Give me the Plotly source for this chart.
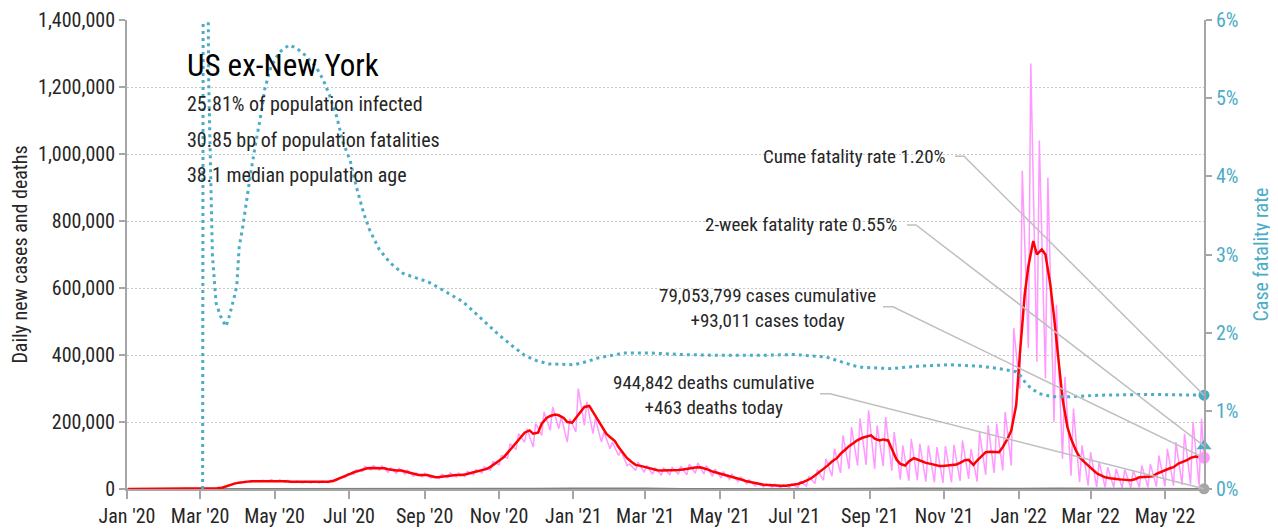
import pandas as pd
import plotly.graph_objects as go

# ---------------- data (cases in thousands) ----------------
thu_dates = pd.date_range("2020-01-02", "2022-06-02", freq="7D")   # 127 Thursdays
sun_dates = pd.date_range("2020-01-05", "2022-05-29", freq="7D")   # 126 Sundays
tue_dates = pd.date_range("2020-01-07", "2022-05-31", freq="7D")   # 126 Tuesdays

# 7-day average of new cases (thousands), sampled Thursday / Sunday of each week
avg_thu = [0, 0, 0, 0, 0, 0, 0, 0, 0, 0.1, 0.8, 4, 12, 19, 22, 23, 25, 25, 24, 22,
           21, 21, 21, 21, 24, 33, 45, 54, 62, 63, 62, 56, 55, 48, 42, 42, 35, 38, 42, 42,
           47, 54, 60, 75, 95, 124, 155, 175, 168, 212, 222, 212, 198, 232, 248, 205, 165, 143, 107, 80,
           69, 63, 56, 55, 57, 58, 62, 65, 57, 48, 43, 35, 27, 20, 14, 12, 10, 10, 12, 20,
           32, 50, 72, 92, 118, 138, 153, 160, 145, 145, 87, 70, 92, 82, 75, 69, 70, 73, 86, 72,
           100, 111, 110, 150, 250, 580, 740, 715, 610, 370, 185, 115, 80, 55, 40, 32, 29, 27, 30, 36,
           38, 52, 62, 76, 86, 97, 92]
avg_sun = [0, 0, 0, 0, 0, 0, 0, 0, 0, 0.3, 2, 8, 16, 21, 23, 24, 25, 25, 23, 22,
           21, 21, 21, 22, 28, 39, 50, 58, 63, 63, 59, 55, 52, 45, 42, 39, 36, 40, 42, 43,
           50, 56, 66, 84, 108, 140, 168, 165, 195, 218, 220, 200, 212, 245, 230, 185, 155, 125, 92, 72,
           66, 59, 55, 56, 57, 60, 64, 62, 52, 45, 39, 31, 23, 17, 13, 11, 10, 11, 15, 25,
           40, 60, 82, 105, 128, 146, 157, 150, 148, 120, 75, 82, 88, 78, 72, 69, 71, 78, 87, 85,
           110, 111, 125, 175, 400, 665, 700, 700, 515, 270, 150, 95, 70, 47, 35, 30, 28, 26, 35, 37,
           45, 57, 65, 80, 93, 95]

# daily new cases (thousands): weekly low (Sunday) and high (Tuesday)
daily_lo = [0, 0, 0, 0, 0, 0, 0, 0, 0, 0.3, 2, 8, 15, 20, 21, 22, 22, 21, 20, 19,
            18, 18, 18, 19, 25, 35, 44, 53, 57, 56, 50, 47, 44, 38, 36, 33, 31, 34, 36, 37,
            42, 48, 56, 72, 92, 118, 140, 125, 160, 175, 180, 140, 170, 190, 165, 140, 120, 100, 70, 55,
            50, 44, 42, 43, 44, 42, 47, 45, 38, 33, 28, 22, 16, 9, 6, 5, 4, 4, 4, 9,
            16, 26, 38, 48, 60, 70, 72, 60, 68, 55, 28, 25, 26, 22, 20, 18, 20, 24, 30, 22,
            42, 48, 55, 70, 300, 420, 380, 330, 200, 90, 40, 20, 10, 6, 5, 5, 4, 4, 5, 5,
            7, 8, 10, 12, 14, 10]
daily_hi = [0, 0, 0, 0, 0, 0, 0, 0, 0, 0.6, 4, 11, 19, 23, 25, 26, 28, 27, 26, 24,
            23, 23, 24, 26, 33, 46, 58, 68, 70, 69, 63, 62, 56, 48, 47, 38, 44, 48, 48, 53,
            58, 66, 82, 100, 135, 165, 180, 195, 230, 245, 215, 210, 300, 260, 210, 170, 140, 115, 75, 80,
            70, 62, 62, 64, 68, 74, 78, 70, 60, 52, 44, 36, 28, 18, 16, 14, 13, 15, 22, 38,
            58, 90, 120, 160, 185, 210, 235, 190, 215, 170, 130, 150, 135, 130, 125, 128, 132, 145, 120, 170,
            190, 195, 230, 480, 950, 1270, 1040, 930, 550, 335, 240, 130, 110, 80, 65, 60, 58, 55, 70, 75,
            100, 120, 140, 165, 200, 210]

# daily deaths, 7-day average (thousands), first of each month
death_dates = ["2020-01-01", "2020-03-01", "2020-04-01", "2020-05-01", "2020-06-01", "2020-07-01",
               "2020-08-01", "2020-09-01", "2020-10-01", "2020-11-01", "2020-12-01", "2021-01-01",
               "2021-02-01", "2021-03-01", "2021-04-01", "2021-05-01", "2021-06-01", "2021-07-01",
               "2021-08-01", "2021-09-01", "2021-10-01", "2021-11-01", "2021-12-01", "2022-01-01",
               "2022-02-01", "2022-03-01", "2022-04-01", "2022-05-01", "2022-06-02"]
death_avg = [0, 0, 0.5, 1.3, 0.9, 0.55, 1.15, 0.95, 0.75, 0.85, 1.6, 2.6,
             3.0, 1.9, 0.9, 0.7, 0.5, 0.25, 0.4, 1.4, 1.9, 1.2, 1.0, 1.3,
             2.4, 1.6, 0.7, 0.35, 0.463]

# case fatality rate (%)
cfr_dates = ["2020-03-03", "2020-03-04", "2020-03-06", "2020-03-08", "2020-03-11", "2020-03-14",
             "2020-03-18", "2020-03-22", "2020-03-24", "2020-03-27", "2020-03-29", "2020-03-31",
             "2020-04-01", "2020-04-02", "2020-04-05", "2020-04-08", "2020-04-11", "2020-04-15",
             "2020-04-19", "2020-04-23", "2020-04-28", "2020-05-05", "2020-05-13", "2020-05-19",
             "2020-05-26", "2020-06-04", "2020-06-10", "2020-06-15", "2020-06-21", "2020-06-26",
             "2020-07-02", "2020-07-07", "2020-07-13", "2020-07-18", "2020-07-26", "2020-08-04",
             "2020-08-14", "2020-08-25", "2020-09-04", "2020-09-21", "2020-10-02", "2020-10-12",
             "2020-10-22", "2020-11-01", "2020-11-12", "2020-11-22", "2020-12-02", "2020-12-12",
             "2021-01-02", "2021-01-12", "2021-01-22", "2021-02-12", "2021-03-04", "2021-04-01",
             "2021-05-01", "2021-06-01", "2021-07-01", "2021-07-27", "2021-08-10", "2021-08-23",
             "2021-09-17", "2021-10-10", "2021-11-05", "2021-12-01", "2021-12-16", "2021-12-30",
             "2022-01-03", "2022-01-07", "2022-01-12", "2022-01-18", "2022-01-29", "2022-02-12",
             "2022-03-08", "2022-04-18", "2022-06-02"]
cfr_pct = [0, 14, 9.5, 5.2, 3.0, 2.38,
           2.2, 2.08, 2.16, 2.33, 2.46, 2.6,
           2.84, 3.1, 3.36, 3.7, 4.0, 4.38,
           4.72, 5.12, 5.40, 5.59, 5.68, 5.64,
           5.55, 5.40, 5.23, 5.04, 4.76, 4.44,
           4.2, 3.87, 3.53, 3.31, 3.06, 2.89,
           2.76, 2.70, 2.65, 2.5, 2.4, 2.26,
           2.12, 1.97, 1.83, 1.71, 1.64, 1.60,
           1.59, 1.63, 1.68, 1.74, 1.74, 1.72,
           1.71, 1.71, 1.72, 1.69, 1.62, 1.56,
           1.54, 1.57, 1.59, 1.57, 1.54, 1.50,
           1.44, 1.35, 1.28, 1.22, 1.18, 1.18,
           1.20, 1.21, 1.20]

end_date = "2022-06-02"
cases_cumulative = 79053799
cases_today = 93011
deaths_cumulative = 944842
deaths_today = 463
cume_cfr = 1.20
two_week_cfr = 0.55

title = "US ex-New York"
subtitle_lines = ["25.81% of population infected",
                  "30.85 bp of population fatalities",
                  "38.1 median population age"]

# ---------------- build series ----------------
K = 1000
avg_x, avg_y = [], []
for k in range(len(thu_dates)):
    avg_x.append(thu_dates[k]); avg_y.append(avg_thu[k] * K)
    if k < len(sun_dates):
        avg_x.append(sun_dates[k]); avg_y.append(avg_sun[k] * K)

daily_x, daily_y = [], []
for k in range(len(sun_dates)):
    daily_x.append(sun_dates[k]); daily_y.append(daily_lo[k] * K)
    daily_x.append(tue_dates[k]); daily_y.append(daily_hi[k] * K)
daily_x.append(pd.Timestamp(end_date)); daily_y.append(cases_today)

FONT = "Roboto Condensed, DejaVu Sans Condensed, sans-serif"
TEAL = "#4bacc6"
PINK = "#ff99ff"
RED = "#ff0000"
GREY = "#a6a6a6"
LEADER = "#bfbfbf"
TXT = "#262626"

fig = go.Figure()
fig.add_trace(go.Scatter(x=daily_x, y=daily_y, mode="lines",
                         line=dict(color=PINK, width=1.5), yaxis="y"))
fig.add_trace(go.Scatter(x=pd.to_datetime(death_dates), y=[d * K for d in death_avg], mode="lines",
                         line=dict(color="#7f7f7f", width=1.5), yaxis="y"))
fig.add_trace(go.Scatter(x=avg_x, y=avg_y, mode="lines",
                         line=dict(color=RED, width=2.5), yaxis="y"))
fig.add_trace(go.Scatter(x=pd.to_datetime(cfr_dates), y=cfr_pct, mode="lines",
                         line=dict(color=TEAL, width=3, dash="3px,4px"), yaxis="y2"))

# end markers
fig.add_trace(go.Scatter(x=[end_date], y=[cases_today], mode="markers", yaxis="y",
                         marker=dict(color=PINK, size=12), cliponaxis=False))
fig.add_trace(go.Scatter(x=[end_date], y=[deaths_today], mode="markers", yaxis="y",
                         marker=dict(color=GREY, size=11), cliponaxis=False))
fig.add_trace(go.Scatter(x=[end_date], y=[cume_cfr], mode="markers", yaxis="y2",
                         marker=dict(color=TEAL, size=11), cliponaxis=False))
fig.add_trace(go.Scatter(x=[end_date], y=[two_week_cfr], mode="markers", yaxis="y2",
                         marker=dict(color=TEAL, size=13, symbol="triangle-up"), cliponaxis=False))

# leader lines (pixel offsets from the marker they point to)
def leader(yref, yval, path):
    return dict(type="path", xref="x", yref=yref, xsizemode="pixel", ysizemode="pixel",
                xanchor=end_date, yanchor=yval, path=path,
                line=dict(color=LEADER, width=1.5), layer="above")

shapes = [
    leader("y2", cume_cfr, "M -249,239 L -240,239 L 0,0"),
    leader("y2", two_week_cfr, "M -297,221 L -288,221 L 0,0"),
    leader("y", cases_today, "M -321,151 L -311,151 L 0,0"),
    leader("y", deaths_today, "M -384,95 L -374,95 L 0,0"),
]

annotations = [
    dict(text=title, x=0.0536, y=0.904, xref="paper", yref="paper", xanchor="left", yanchor="middle",
         showarrow=False, font=dict(size=31, color="#000000")),
]
for i, line in enumerate(subtitle_lines):
    annotations.append(dict(text=line, x=0.0536, y=[0.821, 0.744, 0.670][i], xref="paper", yref="paper",
                            xanchor="left", yanchor="middle", showarrow=False,
                            font=dict(size=20, color=TXT)))
annotations += [
    dict(text=f"Cume fatality rate {cume_cfr:.2f}%", x=0.762, y=0.708, xref="paper", yref="paper",
         xanchor="right", yanchor="middle", showarrow=False, font=dict(size=19, color=TXT)),
    dict(text=f"2-week fatality rate {two_week_cfr:.2f}%", x=0.7167, y=0.563, xref="paper", yref="paper",
         xanchor="right", yanchor="middle", showarrow=False, font=dict(size=19, color=TXT)),
    dict(text=f"{cases_cumulative:,} cases cumulative<br>+{cases_today:,} cases today",
         x=0.595, y=0.386, xref="paper", yref="paper", xanchor="center", yanchor="middle",
         align="center", showarrow=False, font=dict(size=19, color=TXT)),
    dict(text=f"{deaths_cumulative:,} deaths cumulative<br>+{deaths_today:,} deaths today",
         x=0.545, y=0.2004, xref="paper", yref="paper", xanchor="center", yanchor="middle",
         align="center", showarrow=False, font=dict(size=19, color=TXT)),
]

tickvals = pd.date_range("2020-01-01", "2022-05-01", freq="2MS")

# the page body has an 8px margin, so the figure is drawn 8px in from the top-left corner
fig.update_layout(
    width=1270, height=521,
    margin=dict(l=119, r=74, t=12, b=40, autoexpand=False),
    plot_bgcolor="white", paper_bgcolor="white",
    showlegend=False,
    font=dict(family=FONT, size=20, color=TXT),
    shapes=shapes, annotations=annotations,
    xaxis=dict(type="date", range=["2020-01-01", end_date], tickvals=tickvals,
               tickformat="%b '%y", ticks="outside", ticklen=8, tickcolor=GREY, tickwidth=1.5,
               showline=True, linecolor=GREY, linewidth=2, showgrid=False, zeroline=False,
               automargin=False, tickfont=dict(size=20, color=TXT)),
    yaxis=dict(range=[0, 1400000], dtick=200000, tickformat=",", showgrid=True,
               gridcolor="#c8c8c8", griddash="2px,2px", gridwidth=1,
               ticks="outside", ticklen=6, tickcolor=GREY, tickwidth=1.5,
               showline=True, linecolor=GREY, linewidth=2, zeroline=False, automargin=False,
               tickfont=dict(size=20, color=TXT),
               title=dict(text="Daily new cases and deaths", font=dict(size=20, color=TXT), standoff=6)),
    yaxis2=dict(range=[0, 6], dtick=1, ticksuffix="%", overlaying="y", side="right",
                showgrid=False, ticks="outside", ticklen=6, tickcolor=GREY, tickwidth=1.5,
                showline=True, linecolor=GREY, linewidth=2, zeroline=False, automargin=False,
                tickfont=dict(size=20, color=TEAL),
                title=dict(text="Case fatality rate", font=dict(size=20, color=TEAL), standoff=16)),
)

fig.write_html("out.html")
